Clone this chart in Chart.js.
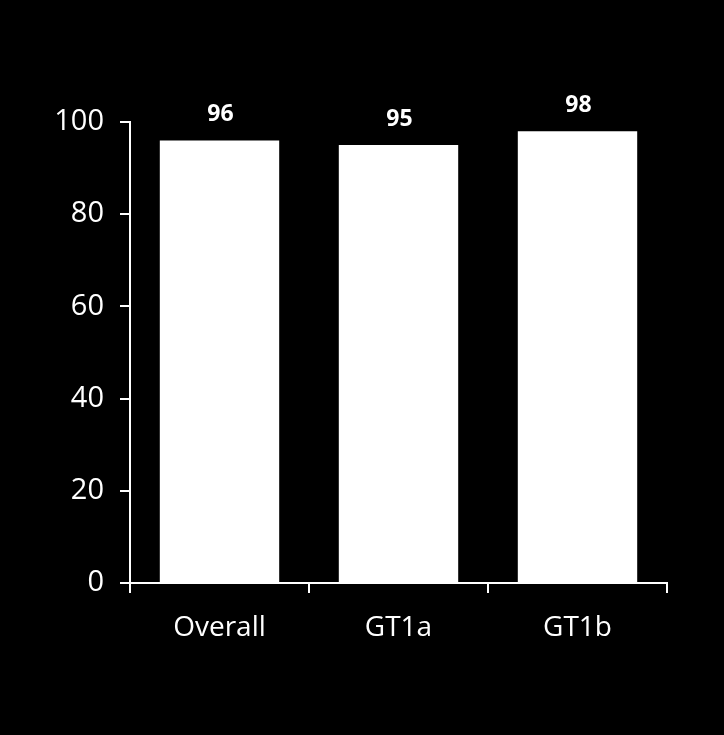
<!DOCTYPE html>
<html>
<head>
<meta charset="utf-8">
<script src="https://cdn.jsdelivr.net/npm/chart.js@4/dist/chart.umd.min.js"></script>
<style>
  html, body { margin: 0; padding: 0; background: #000; }
  #wrap { width: 724px; height: 735px; }
</style>
</head>
<body>
<div id="wrap"><canvas id="c" width="724" height="735"></canvas></div>
<script>
const categories = ["Overall", "GT1a", "GT1b"];
const values = [96, 95, 98];
const yTicks = [0, 20, 40, 60, 80, 100];

const labelPlugin = {
  id: 'valueLabels',
  afterDatasetsDraw(chart) {
    const ctx = chart.ctx;
    const meta = chart.getDatasetMeta(0);
    ctx.save();
    ctx.fillStyle = '#fff';
    ctx.font = 'bold 23px "Open Sans"';
    ctx.textAlign = 'center';
    ctx.textBaseline = 'middle';
    meta.data.forEach((bar, i) => {
      ctx.fillText(String(values[i]), bar.x + 1, bar.y - 26);
    });
    ctx.restore();
  }
};

new Chart(document.getElementById('c'), {
  type: 'bar',
  data: {
    labels: categories,
    datasets: [{
      data: values,
      backgroundColor: '#ffffff',
      borderWidth: 0,
      categoryPercentage: 0.667,
      barPercentage: 1.0
    }]
  },
  options: {
    responsive: false,
    animation: false,
    layout: { padding: { left: 0, right: 57, top: 122, bottom: 0 } },
    plugins: { legend: { display: false }, tooltip: { enabled: false } },
    scales: {
      x: {
        offset: true,
        grid: { offset: true, drawOnChartArea: false, drawTicks: true, tickLength: 10, color: '#fff', lineWidth: 2 },
        border: { color: '#fff', width: 2 },
        ticks: { color: '#fff', font: { family: '"Open Sans"', size: 28 }, padding: 18 },
        afterFit(s) { s.height = 152; }
      },
      y: {
        min: 0, max: 100,
        afterBuildTicks(s) { s.ticks = yTicks.map(v => ({ value: v })); },
        grid: { drawOnChartArea: false, drawTicks: true, tickLength: 10, color: '#fff', lineWidth: 2 },
        border: { color: '#fff', width: 2 },
        ticks: { color: '#fff', font: { family: '"Open Sans"', size: 29 }, padding: 16 },
        afterFit(s) { s.width = 130; }
      }
    }
  },
  plugins: [labelPlugin]
});
</script>
</body>
</html>
